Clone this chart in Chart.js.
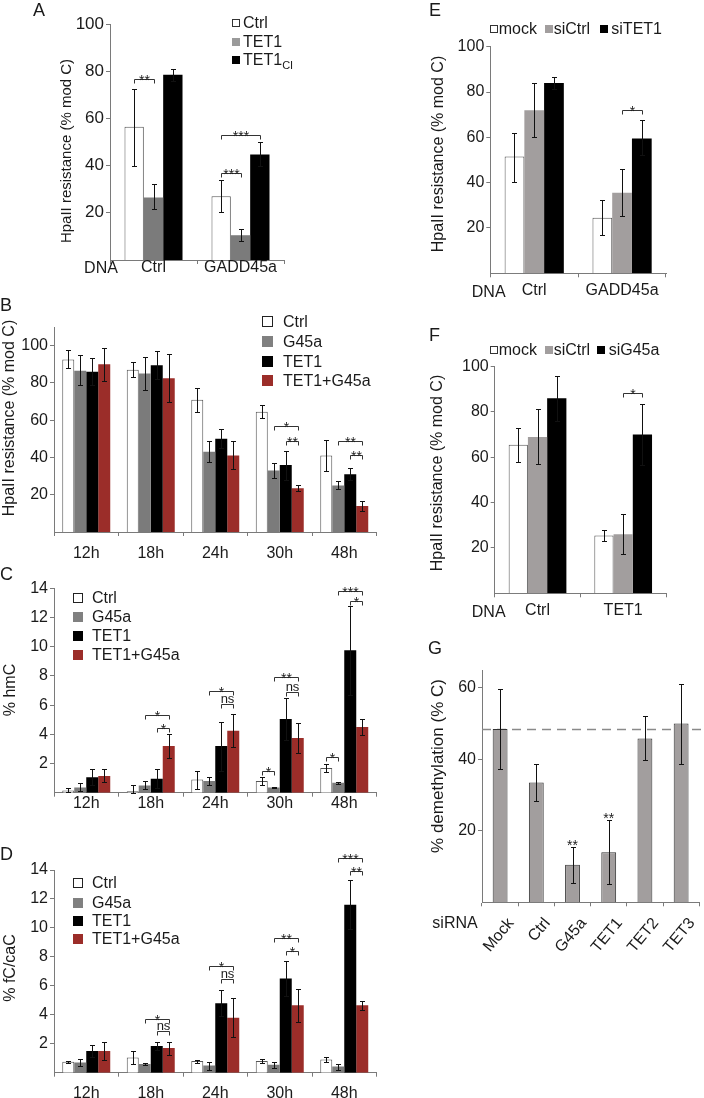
<!DOCTYPE html>
<html>
<head>
<meta charset="utf-8">
<script src="https://cdn.jsdelivr.net/npm/chart.js@4.4.1/dist/chart.umd.min.js"></script>
<style>
  body { margin: 0; background: #fff; width: 704px; height: 1098px; position: relative; overflow: hidden;
         font-family: "Liberation Sans", Arial, sans-serif; color: #1a1a1a; }
  canvas { position: absolute; }
  .t { position: absolute; white-space: nowrap; line-height: 1; }
  .sw { position: absolute; box-sizing: border-box; }
  sub { font-size: 11px; vertical-align: -4px; line-height: 0; }
</style>
</head>
<body>
<script>
// ---------- data ----------
const yTicksHpa = [20, 40, 60, 80, 100];
const yTicksMod = [2, 4, 6, 8, 10, 12, 14];
const yTicksG = [20, 40, 60];

// A: HpaII resistance, Ctrl vs GADD45a DNA
const catsA = ["Ctrl", "GADD45a"];
const namesA = ["Ctrl", "TET1", "TET1<sub>CI</sub>"];
const aCtrl = [56.5, 27];
const aCtrlErr = [[40, 72.5], [20.3, 34]];
const aTet1 = [26.5, 10.5];
const aTet1Err = [[21.5, 32], [8, 13]];
const aTetCI = [78.5, 44.7];
const aTetCIErr = [[76, 81], [40, 50]];
const sigA = [[0, 0, 1, 76.6, "**"], [1, 0, 2, 53, "***"], [1, 0, 1, 36.7, "***"]];

// B/C/D: time course
const catsTime = ["12h", "18h", "24h", "30h", "48h"];
const namesTime = ["Ctrl", "G45a", "TET1", "TET1+G45a"];

const bCtrl = [92.5, 87, 71, 64.5, 41];
const bCtrlErr = [[88, 97.5], [83, 91], [64.5, 77.5], [61, 68], [33, 49.5]];
const bG45a = [86.5, 85, 43, 33, 25];
const bG45aErr = [[79, 95], [76, 94], [37.5, 49], [29, 37], [23, 27.5]];
const bTet1 = [86, 89.5, 50, 36, 31];
const bTet1Err = [[79, 93.5], [82, 97], [45, 55.5], [28, 43.5], [28, 34.5]];
const bBoth = [90, 82.5, 41, 23.5, 14];
const bBothErr = [[81, 99], [70, 95.5], [34, 49], [22, 25], [11.5, 16.5]];
const sigB = [[3, 1, 3, 57, "*"], [3, 2, 3, 49, "**"], [4, 1, 3, 49, "**"], [4, 2, 3, 41.5, "**"]];

const cCtrl = [0.15, 0.1, 0.9, 0.8, 1.7];
const cCtrlErr = [[0.02, 0.3], [0, 0.5], [0.25, 1.5], [0.55, 1.05], [1.4, 1.95]];
const cG45a = [0.35, 0.5, 0.8, 0.35, 0.68];
const cG45aErr = [[0.1, 0.65], [0.25, 0.8], [0.5, 1.1], [0.3, 0.4], [0.62, 0.72]];
const cTet1 = [1.05, 0.95, 3.2, 5.05, 9.75];
const cTet1Err = [[0.5, 1.6], [0.3, 1.65], [1.5, 4.85], [3.6, 6.5], [6.7, 12.8]];
const cBoth = [1.15, 3.2, 4.25, 3.75, 4.5];
const cBothErr = [[0.7, 1.6], [2.35, 4.05], [3.1, 5.4], [2.7, 4.75], [3.95, 5.05]];
const sigC = [[1, 1, 3, 5.3, "*"], [1, 2, 3, 4.4, "*"], [2, 1, 3, 6.95, "*"], [2, 2, 3, 6.1, "ns"],
              [3, 1, 3, 7.95, "**"], [3, 2, 3, 6.9, "ns"], [3, 0, 1, 1.5, "*"], [4, 0, 1, 2.45, "*"],
              [4, 1, 3, 13.8, "***"], [4, 2, 3, 13.1, "*"]];

const dCtrl = [0.75, 1.05, 0.8, 0.8, 0.92];
const dCtrlErr = [[0.7, 0.8], [0.6, 1.5], [0.7, 0.9], [0.65, 0.95], [0.74, 1.1]];
const dG45a = [0.7, 0.6, 0.5, 0.55, 0.42];
const dG45aErr = [[0.45, 0.95], [0.5, 0.7], [0.2, 0.75], [0.35, 0.75], [0.2, 0.62]];
const dTet1 = [1.5, 1.85, 4.8, 6.5, 11.6];
const dTet1Err = [[1.1, 1.9], [1.55, 2.15], [3.9, 5.7], [5.3, 7.7], [9.9, 13.3]];
const dBoth = [1.5, 1.7, 3.8, 4.65, 4.65];
const dBothErr = [[0.85, 2.15], [1.2, 2.15], [2.45, 5.15], [3.5, 5.8], [4.35, 4.95]];
const sigD = [[1, 1, 3, 3.7, "*"], [1, 2, 3, 2.85, "ns"], [2, 1, 3, 7.35, "*"], [2, 2, 3, 6.5, "ns"],
              [3, 1, 3, 9.3, "**"], [3, 2, 3, 8.4, "*"], [4, 1, 3, 14.8, "***"], [4, 2, 3, 13.9, "**"]];

// E: siRNA TET1
const catsE = ["Ctrl", "GADD45a"];
const namesE = ["mock", "siCtrl", "siTET1"];
const eMock = [51.5, 24.5];
const eMockErr = [[40.5, 62], [17, 32.5]];
const eSiCtrl = [72, 35.5];
const eSiCtrlErr = [[60, 84], [25.5, 46]];
const eSiTet1 = [84, 59.5];
const eSiTet1Err = [[81.5, 86.5], [52, 67.5]];
const sigE = [[1, 1, 2, 72, "*"]];

// F: siRNA G45a
const catsF = ["Ctrl", "TET1"];
const namesF = ["mock", "siCtrl", "siG45a"];
const fMock = [65.5, 25.5];
const fMockErr = [[58, 73], [23, 28]];
const fSiCtrl = [69, 26];
const fSiCtrlErr = [[57, 81.5], [17.5, 35]];
const fSiG45a = [86, 70];
const fSiG45aErr = [[76, 96], [56.5, 83.5]];
const sigF = [[1, 1, 2, 88.5, "*"]];

// G: demethylation
const catsG = ["Mock", "Ctrl", "G45a", "TET1", "TET2", "TET3"];
const gVals = [48.5, 33.5, 10.5, 14, 45.8, 50];
const gErr = [[37.4, 59.6], [28.3, 38.8], [5.3, 15.5], [5.1, 22.9], [39.7, 52], [38.8, 61]];
const gStars = ["", "", "**", "**", "", ""];
const gRef = 48.5;

// ---------- styles ----------
const FONT = '"Liberation Sans", Arial, sans-serif';
const INK = '#1a1a1a';
const AXIS = '#7a7a7a';
const RED = '#9b2d29';
const GRAY = '#7b7b7b';
const LGRAY = '#a29e9e';

Chart.defaults.font.family = FONT;
Chart.defaults.color = INK;

// ---------- plugins ----------
const errorBars = {
  id: 'errorBars',
  afterDatasetsDraw(chart) {
    const ctx = chart.ctx, y = chart.scales.y;
    chart.data.datasets.forEach((ds, i) => {
      if (!ds.err) return;
      chart.getDatasetMeta(i).data.forEach((bar, j) => {
        const e = ds.err[j];
        if (!e) return;
        const x = Math.round(bar.x) + 0.5;
        const top = Math.round(y.getPixelForValue(e[1])) + 0.5;
        const bot = Math.round(y.getPixelForValue(e[0])) + 0.5;
        ctx.save();
        ctx.strokeStyle = '#111';
        ctx.lineWidth = 1;
        ctx.beginPath();
        ctx.moveTo(x, top); ctx.lineTo(x, bot);
        ctx.moveTo(x - 2.5, top); ctx.lineTo(x + 2.5, top);
        ctx.moveTo(x - 2.5, bot); ctx.lineTo(x + 2.5, bot);
        ctx.stroke();
        ctx.restore();
      });
    });
  }
};

function brackets(items) {
  return {
    id: 'brackets',
    afterDatasetsDraw(chart) {
      const ctx = chart.ctx, y = chart.scales.y;
      ctx.save();
      ctx.strokeStyle = '#333';
      ctx.fillStyle = INK;
      ctx.lineWidth = 1;
      ctx.textAlign = 'center';
      items.forEach(([cat, d1, d2, v, label]) => {
        const x1 = Math.round(chart.getDatasetMeta(d1).data[cat].x) + 0.5;
        const x2 = Math.round(chart.getDatasetMeta(d2).data[cat].x) + 0.5;
        const py = Math.round(y.getPixelForValue(v)) + 0.5;
        ctx.beginPath();
        ctx.moveTo(x1, py + 4); ctx.lineTo(x1, py); ctx.lineTo(x2, py); ctx.lineTo(x2, py + 4);
        ctx.stroke();
        if (label === 'ns') {
          ctx.font = '13px ' + FONT;
          ctx.fillText(label, (x1 + x2) / 2, py - 2);
        } else {
          ctx.font = '14px ' + FONT;
          ctx.fillText(label, (x1 + x2) / 2, py + 5);
        }
      });
      ctx.restore();
    }
  };
}

const gExtras = {
  id: 'gExtras',
  beforeDatasetsDraw(chart) {
    const ctx = chart.ctx, a = chart.chartArea;
    const py = Math.round(chart.scales.y.getPixelForValue(gRef)) + 0.5;
    ctx.save();
    ctx.strokeStyle = '#8a8a8a';
    ctx.lineWidth = 1.5;
    ctx.setLineDash([9, 6]);
    ctx.beginPath(); ctx.moveTo(a.left, py); ctx.lineTo(chart.width, py); ctx.stroke();
    ctx.restore();
  },
  afterDatasetsDraw(chart) {
    const ctx = chart.ctx, y = chart.scales.y;
    ctx.save();
    ctx.fillStyle = INK;
    ctx.font = '14px ' + FONT;
    ctx.textAlign = 'center';
    chart.getDatasetMeta(0).data.forEach((bar, j) => {
      if (!gStars[j]) return;
      ctx.fillText(gStars[j], bar.x, y.getPixelForValue(gErr[j][1]) + 3);
    });
    ctx.restore();
  }
};

// ---------- helpers ----------
function bars(data, err, fill, border) {
  return { data, err, backgroundColor: fill, borderColor: border || fill, borderWidth: border ? 1 : 0 };
}

function panel(cfg) {
  const b = cfg.box, a = cfg.area;
  const c = document.createElement('canvas');
  c.width = b.w; c.height = b.h;
  c.style.left = b.x + 'px'; c.style.top = b.y + 'px';
  document.body.appendChild(c);
  return new Chart(c, {
    type: 'bar',
    data: { labels: cfg.cats, datasets: cfg.sets },
    options: {
      responsive: false,
      animation: false,
      events: [],
      datasets: { bar: { categoryPercentage: cfg.cat, barPercentage: cfg.barPct || 1 } },
      layout: { padding: { top: a.t - b.y, right: b.x + b.w - a.r, left: 0, bottom: 0 } },
      plugins: { legend: { display: false }, tooltip: { enabled: false } },
      scales: {
        x: {
          offset: true,
          grid: { offset: true, drawOnChartArea: false, tickLength: 4, color: AXIS },
          border: { color: AXIS },
          ticks: { font: { size: 16 }, color: INK, padding: cfg.xPad, autoSkip: false,
                   labelOffset: cfg.labelOffset || 0,
                   maxRotation: cfg.rot || 0, minRotation: cfg.rot || 0 },
          afterFit: s => { s.height = b.y + b.h - a.b; }
        },
        y: {
          min: 0, max: cfg.yMax,
          grid: { drawOnChartArea: false, tickLength: 4, color: AXIS },
          border: { color: AXIS },
          ticks: { font: { size: cfg.yTickSize || 16 }, color: INK, padding: 2 },
          afterBuildTicks: s => { s.ticks = cfg.yTicks.map(v => ({ value: v })); },
          afterFit: s => { s.width = a.l - b.x; }
        }
      }
    },
    plugins: [errorBars, brackets(cfg.sig || []), ...(cfg.extra || [])]
  });
}

function label(html, x, yc, size, center) {
  const d = document.createElement('div');
  d.className = 't';
  d.style.fontSize = size + 'px';
  d.style.left = x + 'px';
  d.style.top = (yc - 0.488 * size) + 'px';
  if (center) d.style.transform = 'translateX(-50%)';
  d.innerHTML = html;
  document.body.appendChild(d);
}

// rotated axis title, centred on (xc, yc)
function vtitle(str, xc, yc, size) {
  const d = document.createElement('div');
  d.className = 't';
  d.style.fontSize = size + 'px';
  d.style.lineHeight = size + 'px';
  d.style.left = xc + 'px';
  d.style.top = yc + 'px';
  d.style.transform = 'translate(-50%, -50%) rotate(-90deg)';
  d.style.transformOrigin = '50% 50%';
  d.textContent = str;
  document.body.appendChild(d);
}

function swatch(x, yc, s, fill, border) {
  const d = document.createElement('div');
  d.className = 'sw';
  d.style.left = x + 'px';
  d.style.top = (yc - s / 2) + 'px';
  d.style.width = s + 'px';
  d.style.height = s + 'px';
  d.style.background = fill;
  if (border) d.style.border = '1.5px solid ' + border;
  document.body.appendChild(d);
}

function letter(ch, x, capTop) { label(ch, x, capTop + 0.358 * 18, 18); }

// ---------- panels ----------
panel({
  box: { x: 55, y: 0, w: 245, h: 290 }, area: { l: 110, t: 24, r: 284, b: 260 },
  cats: catsA, cat: 0.667, yMax: 100, yTicks: yTicksHpa, xPad: -6, yTickSize: 17, sig: sigA,
  sets: [bars(aCtrl, aCtrlErr, '#fff', '#555'), bars(aTet1, aTet1Err, GRAY), bars(aTetCI, aTetCIErr, '#000')]
});

panel({
  box: { x: 0, y: 300, w: 380, h: 270 }, area: { l: 54, t: 327, r: 376.5, b: 532 },
  cats: catsTime, cat: 0.744, yMax: 110, yTicks: yTicksHpa, xPad: 8, sig: sigB,
  sets: [bars(bCtrl, bCtrlErr, '#fff', '#555'), bars(bG45a, bG45aErr, GRAY),
         bars(bTet1, bTet1Err, '#000'), bars(bBoth, bBothErr, RED)]
});

panel({
  box: { x: 0, y: 575, w: 380, h: 240 }, area: { l: 54, t: 588.3, r: 376.5, b: 792.7 },
  cats: catsTime, cat: 0.744, yMax: 14, yTicks: yTicksMod, xPad: -3, sig: sigC,
  sets: [bars(cCtrl, cCtrlErr, '#fff', '#555'), bars(cG45a, cG45aErr, GRAY),
         bars(cTet1, cTet1Err, '#000'), bars(cBoth, cBothErr, RED)]
});

panel({
  box: { x: 0, y: 845, w: 380, h: 253 }, area: { l: 54, t: 870, r: 376.5, b: 1072.7 },
  cats: catsTime, cat: 0.744, yMax: 14, yTicks: yTicksMod, xPad: 7, sig: sigD,
  sets: [bars(dCtrl, dCtrlErr, '#fff', '#555'), bars(dG45a, dG45aErr, GRAY),
         bars(dTet1, dTet1Err, '#000'), bars(dBoth, dBothErr, RED)]
});

panel({
  box: { x: 429, y: 35, w: 260, h: 265 }, area: { l: 490.3, t: 46.7, r: 666, b: 273.3 },
  cats: catsE, cat: 0.674, yMax: 100, yTicks: yTicksHpa, xPad: 4, sig: sigE,
  sets: [bars(eMock, eMockErr, '#fff', '#555'), bars(eSiCtrl, eSiCtrlErr, LGRAY), bars(eSiTet1, eSiTet1Err, '#000')]
});

panel({
  box: { x: 428, y: 355, w: 260, h: 268 }, area: { l: 494.7, t: 366, r: 666, b: 593.3 },
  cats: catsF, cat: 0.674, yMax: 100, yTicks: yTicksHpa, xPad: 4, sig: sigF,
  sets: [bars(fMock, fMockErr, '#fff', '#555'), bars(fSiCtrl, fSiCtrlErr, LGRAY), bars(fSiG45a, fSiG45aErr, '#000')]
});

panel({
  box: { x: 428, y: 655, w: 276, h: 300 }, area: { l: 482, t: 670, r: 702, b: 902.3 },
  cats: catsG, cat: 1, barPct: 0.41, yMax: 65, yTicks: yTicksG, xPad: 8, rot: 50, labelOffset: 11,
  extra: [gExtras],
  sets: [bars(gVals, gErr, LGRAY, '#333')]
});

// ---------- axis titles ----------
vtitle('HpaII resistance (% mod C)', 65, 151, 15);
vtitle('HpaII resistance (% mod C)', 8.5, 418, 16);
vtitle('% hmC', 10, 690, 16);
vtitle('% fC/caC', 10, 968, 16);
vtitle('HpaII resistance (% mod C)', 438, 154, 16);
vtitle('HpaII resistance (% mod C)', 437, 473, 16);
vtitle('% demethylation (% C)', 437, 766, 17);

// ---------- letters, legends, extra labels ----------
letter('A', 33, 3); letter('B', 0, 298); letter('C', 0, 567); letter('D', 0, 847);
letter('E', 429, 3); letter('F', 429, 328); letter('G', 428, 641);

const swA = [['#fff', '#333'], ['#9a9a9a'], ['#000']];
[22.7, 41.7, 60].forEach((yc, i) => { swatch(232, yc, 8, swA[i][0], swA[i][1]); label(namesA[i], 243, yc, 16); });

const swTime = [['#fff', '#222'], ['#808080'], ['#000'], [RED]];
[321.7, 341.7, 361.7, 380.7].forEach((yc, i) => { swatch(262, yc, 11, swTime[i][0], swTime[i][1]); label(namesTime[i], 283, yc, 16); });
[598.3, 617.3, 636, 655].forEach((yc, i) => { swatch(73, yc, 10, swTime[i][0], swTime[i][1]); label(namesTime[i], 92, yc, 16); });
[882.7, 902.7, 921, 939.3].forEach((yc, i) => { swatch(73, yc, 10, swTime[i][0], swTime[i][1]); label(namesTime[i], 92, yc, 16); });

const swSi = [['#fff', '#333'], [LGRAY], ['#000']];
[[490, 498.7], [545, 553.7], [600, 611.3]].forEach(([sx, tx], i) => { swatch(sx, 29.3, 8, swSi[i][0], swSi[i][1]); label(namesE[i], tx, 29.3, 16); });
[[490, 498.7], [545, 553.7], [597, 608.7]].forEach(([sx, tx], i) => { swatch(sx, 350, 8, swSi[i][0], swSi[i][1]); label(namesF[i], tx, 350, 16); });

label('DNA', 101, 268, 16, true);
label('DNA', 488.7, 291.7, 16, true);
label('DNA', 488.7, 611.7, 16, true);
label('siRNA', 455, 922.7, 16, true);
</script>
</body>
</html>
